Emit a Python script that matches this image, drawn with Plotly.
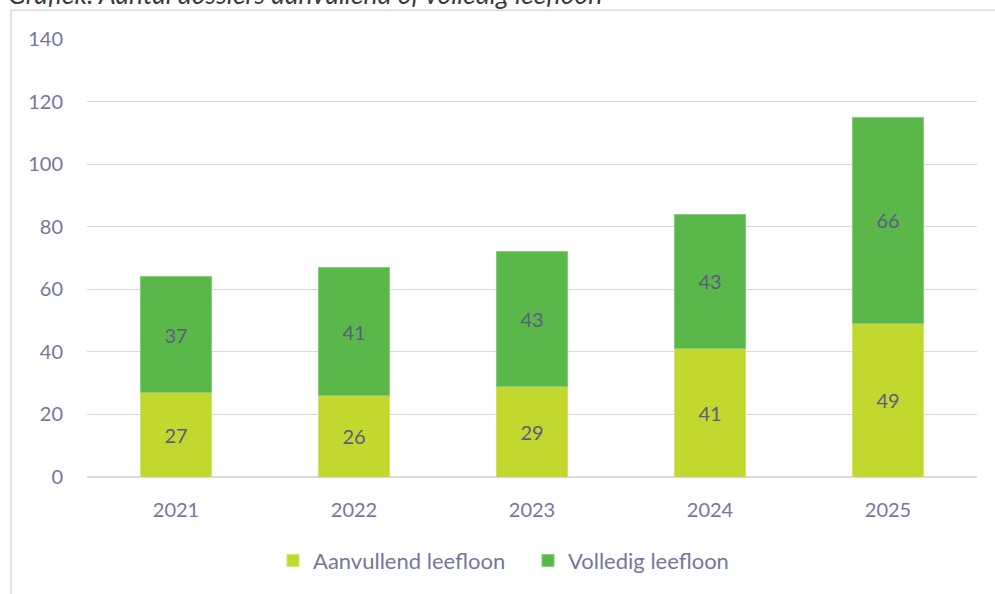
import plotly.graph_objects as go

years = ["2021", "2022", "2023", "2024", "2025"]
aanvullend = [27, 26, 29, 41, 49]
volledig = [37, 41, 43, 43, 66]
y_ticks = [0, 20, 40, 60, 80, 100, 120, 140]

W, H = 995, 594
L, T = 87, 39
pw, ph = 890, 440
R = W - L - pw
B = H - T - ph

FONT = "Lato"
TXT = "#76769A"
LBL = "#5C5C80"

fig = go.Figure()
fig.add_trace(go.Bar(
    x=years, y=aanvullend, name="Aanvullend leefloon",
    marker=dict(color="#C3D82E", line=dict(color="#D3E366", width=1)),
    text=aanvullend, textposition="inside", insidetextanchor="middle",
    textfont=dict(family=FONT, size=20, color=LBL),
))
fig.add_trace(go.Bar(
    x=years, y=volledig, name="Volledig leefloon",
    marker=dict(color="#5AB84B", line=dict(color="#86CC7A", width=1)),
    text=volledig, textposition="inside", insidetextanchor="middle",
    textfont=dict(family=FONT, size=20, color=LBL),
))

# chart frame (left and top border)
x0 = (11 - L) / pw
y_top = 1 + (T - 10) / ph
fig.add_shape(type="line", xref="paper", yref="paper", x0=x0, x1=x0, y0=-(B + 5) / ph, y1=y_top,
              line=dict(color="#D9D9E0", width=1.5))
fig.add_shape(type="line", xref="paper", yref="paper", x0=x0, x1=(W - L + 5) / pw, y0=y_top, y1=y_top,
              line=dict(color="#D9D9E0", width=1.5))

fig.add_annotation(
    text="<i>Grafiek: Aantal dossiers aanvullend of volledig leefloon</i>",
    xref="paper", yref="paper", x=(6 - L) / pw, y=1, xanchor="left", yanchor="bottom",
    yshift=T - 12, showarrow=False,
    font=dict(family=FONT, size=26.5, color="#3A3A3A"),
)

fig.update_layout(
    width=W, height=H,
    margin=dict(l=L, r=R, t=T, b=B),
    barmode="stack", bargap=0.6,
    plot_bgcolor="white", paper_bgcolor="white",
    font=dict(family=FONT, size=20, color=TXT),
    uniformtext=dict(minsize=10, mode="show"),
    xaxis=dict(showgrid=False, showline=False, ticks="", ticklabelstandoff=19,
               tickfont=dict(size=20, color=TXT)),
    yaxis=dict(range=[0, 140], tickvals=y_ticks, showgrid=True, gridcolor="#D9D9E0", gridwidth=1.3,
               zeroline=True, zerolinecolor="#D9D9E0", zerolinewidth=1.5,
               ticks="", ticklabelstandoff=23, tickfont=dict(size=20, color=TXT)),
    legend=dict(orientation="h", x=(273 - L) / pw, xanchor="left", y=-(563 - T - ph) / ph, yanchor="middle",
                font=dict(size=22, color=TXT), itemwidth=30, traceorder="normal",
                entrywidth=210, entrywidthmode="pixels"),
    showlegend=True,
)

fig.write_html("out.html", config={"displayModeBar": False},
               post_script="document.body.style.margin='0px';")
